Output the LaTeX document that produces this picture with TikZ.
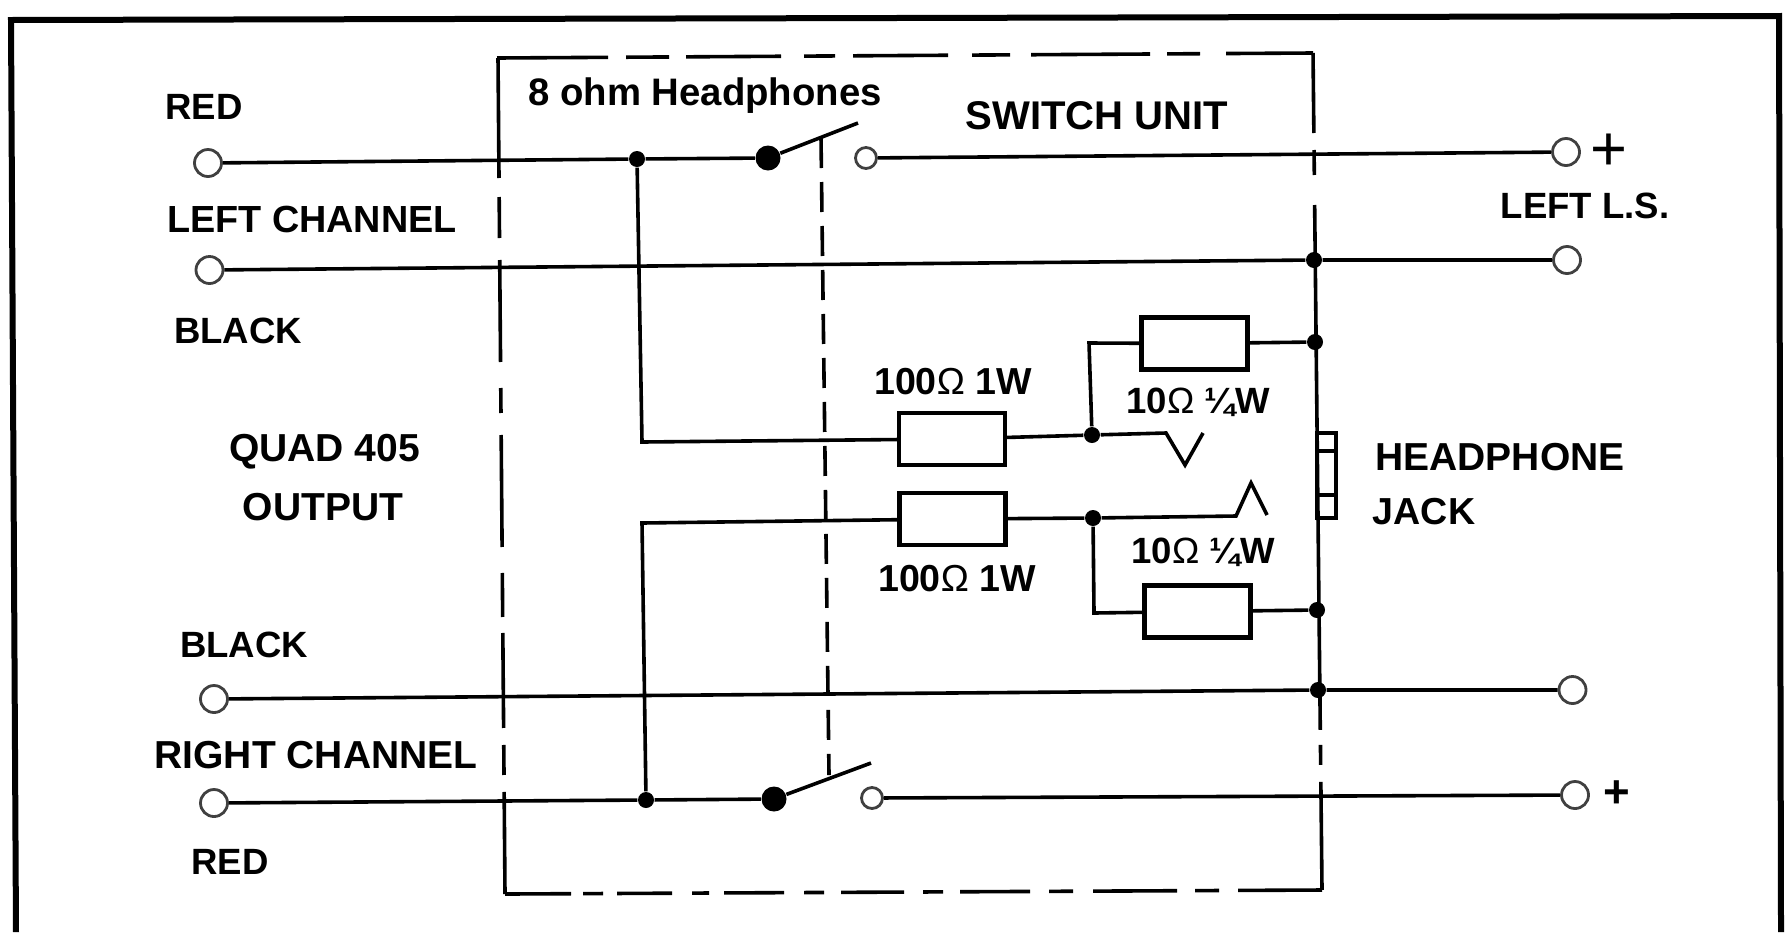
\documentclass[tikz,border=0pt]{standalone}
\usepackage{fontspec}
\setmainfont{Liberation Sans}
\newcommand{\lab}[1]{\fontsize{#1pt}{#1pt}\selectfont\bfseries}
\newcommand{\ohm}{{\fontseries{m}\selectfont Ω}}
\tikzset{
	wire/.style={line width=.36mm,line join=miter},
	frameline/.style={line width=.6mm},
	boxline/.style={line width=.36mm},
	term/.style={circle,draw=black!75,fill=white,line width=.28mm,minimum size=.27cm,inner sep=0},
	contact/.style={term,minimum size=.21cm},
	junc/.style={circle,fill=black,minimum size=.16cm,inner sep=0},
	pivot/.style={circle,fill=black,minimum size=.25cm,inner sep=0},
	res/.style={rectangle,draw,line width=.42mm,fill=white,minimum width=1.06cm,minimum height=.52cm,inner sep=0},
	txt/.style={inner sep=0,text depth=0pt,font=\lab{10.4}},
	val/.style={txt,font=\lab{10.7}}
}
\begin{document}
\begin{tikzpicture}
	\useasboundingbox (0,0) rectangle (17.85,-9.32);
	%Frame
	\draw[frameline] (.16,-9.32)--(.11,-.2)--(17.79,-.16)--(17.81,-9.32);
	%Switch unit box
	\draw[boxline,dash pattern=on 11.1mm off 1.8mm on 4.3mm off 1.7mm on 9.5mm off 2.3mm on 3.1mm off 1.8mm on 9.5mm off 2.4mm on 3.8mm off 2.1mm on 11.9mm off 1.7mm on 3.3mm off 2.6mm on 8.7mm off 1mm] (4.97,-.58)--(13.13,-.53);
	\draw[boxline,dash pattern=on 8mm off 1.7mm on 2.5mm off 3mm on 52.5mm off 1.5mm on 2mm off 1.7mm on 10.8mm off 1mm] (13.13,-.53)--(13.22,-8.9);
	\draw[boxline,dash pattern=on 6.6mm off 1.2mm on 2mm off 1.4mm on 5.5mm off 2mm on 1.7mm off 1.5mm on 6mm off 2mm on 2mm off 1.7mm on 6.3mm off 1.9mm on 2mm off 1.7mm on 7mm off 1.9mm on 2.4mm off 2mm on 8.4mm off 1.8mm on 2.4mm off 1.9mm on 8.5mm off 1mm] (5.05,-8.94)--(13.22,-8.9);
	\draw[boxline,dash pattern=on 12mm off 1.9mm on 4.1mm off 2.2mm on 10.2mm off 2.6mm on 2.5mm off 2.2mm on 11.2mm off 2.6mm on 4.4mm off 1.6mm on 9.5mm off 1.7mm on 3mm off 1.7mm on 10.3mm off 1mm] (4.98,-.58)--(5.05,-8.94);
	%Ganged link between the switches
	\coordinate (Lt) at (8.21,-1.38);
	\coordinate (Lb) at (8.29,-7.75);
	\draw[boxline,dash pattern=on 3mm off 1.4mm] (Lt)--(Lb);
	%Headphone jack
	\draw[wire] (13.17,-4.33) rectangle (13.36,-5.18);
	\draw[wire] (13.17,-4.51)--(13.36,-4.51);
	\draw[wire] (13.17,-4.95)--(13.36,-4.95);
	
	%---------terminals
	\node (RlI) at (2.08,-1.63)[term]{};
	\node (BlI) at (2.095,-2.7)[term]{};
	\node (BrI) at (2.14,-6.99)[term]{};
	\node (RrI) at (2.14,-8.03)[term]{};
	\node (RlO) at (15.66,-1.52)[term]{};
	\node (BlO) at (15.67,-2.6)[term]{};
	\node (BrO) at (15.725,-6.9)[term]{};
	\node (RrO) at (15.75,-7.95)[term]{};
	%---------junctions
	\node (Jl) at (6.37,-1.59)[junc]{};
	\node (Jr) at (6.46,-8.0)[junc]{};
	\node (Jb1) at (13.14,-2.6)[junc]{};
	\node (Jb2) at (13.18,-6.9)[junc]{};
	\node (Ja1) at (10.92,-4.35)[junc]{};
	\node (Ja2) at (10.93,-5.18)[junc]{};
	\node (Jc1) at (13.15,-3.42)[junc]{};
	\node (Jc2) at (13.17,-6.1)[junc]{};
	%---------switches
	\node (Pl) at (7.68,-1.58)[pivot]{};
	\node (Pr) at (7.74,-7.99)[pivot]{};
	\node (Cl) at (8.66,-1.58)[contact]{};
	\node (Cr) at (8.72,-7.98)[contact]{};
	\coordinate (Bl) at (8.58,-1.23);
	\coordinate (Br) at (8.71,-7.63);
	%---------resistors
	\node (R1) at (9.52,-4.39)[res]{};
	\node (R2) at (11.945,-3.435)[res]{};
	\node (R3) at (9.525,-5.19)[res]{};
	\node (R4) at (11.975,-6.115)[res]{};
	
	%Wires
	\draw[wire] (RlI)--(Jl)--(Pl);
	\draw[wire] (Pl)--(Bl);
	\draw[wire] (Cl)--(RlO);
	\draw[wire] (BlI)--(Jb1)--(BlO);
	\draw[wire] (BrI)--(Jb2)--(BrO);
	\draw[wire] (RrI)--(Jr)--(Pr);
	\draw[wire] (Pr)--(Br);
	\draw[wire] (Cr)--(RrO);
	\coordinate (Ca1) at (6.42,-4.42);
	\coordinate (Ca2) at (6.42,-5.23);
	\draw[wire] (Jl)--(Ca1)--(R1);
	\draw[wire] (Jr)--(Ca2)--(R3);
	\draw[wire] (R1)--(Ja1);
	\draw[wire] (R3)--(Ja2);
	\coordinate (Cb1) at (10.89,-3.43);
	\coordinate (Cb2) at (10.94,-6.13);
	\draw[wire] (Ja1)--(Cb1)--(R2);
	\draw[wire] (Ja2)--(Cb2)--(R4);
	\draw[wire] (R2)--(Jc1);
	\draw[wire] (R4)--(Jc2);
	%---------jack contacts
	\coordinate (Tl1) at (11.66,-4.33);
	\coordinate (Tl2) at (11.85,-4.65);
	\coordinate (Tl3) at (12.03,-4.33);
	\coordinate (Tr1) at (12.36,-5.16);
	\coordinate (Tr2) at (12.51,-4.83);
	\coordinate (Tr3) at (12.67,-5.15);
	\draw[wire] (Ja1)--(Tl1)--(Tl2)--(Tl3);
	\draw[wire] (Ja2)--(Tr1)--(Tr2)--(Tr3);
	
	%Labels
	\node (TrA) at (2.04,-1.07)[txt]{RED};
	\node (TlC) at (3.12,-2.19)[txt,font=\lab{10.75}]{LEFT CHANNEL};
	\node (TbA) at (2.38,-3.31)[txt]{BLACK};
	\node (Tq) at (3.245,-4.48)[txt,font=\lab{11.1}]{QUAD 405};
	\node (To) at (3.23,-5.07)[txt,font=\lab{11.1}]{OUTPUT};
	\node (TbB) at (2.44,-6.45)[txt]{BLACK};
	\node (TrC) at (3.16,-7.55)[txt,font=\lab{11.1}]{RIGHT CHANNEL};
	\node (TrB) at (2.3,-8.62)[txt]{RED};
	\node (Th) at (7.05,-.92)[txt,font=\lab{10.9}]{8 ohm Headphones};
	\node (Ts) at (10.97,-1.16)[txt,font=\lab{11.4}]{SWITCH UNIT};
	\node (Tls) at (15.85,-2.06)[txt]{LEFT L.S.};
	\node (Thp) at (15,-4.57)[txt,font=\lab{11.1}]{HEADPHONE};
	\node (Tj) at (14.24,-5.11)[txt,font=\lab{10.7}]{JACK};
	\node (Tv1) at (9.53,-3.81)[val]{100\ohm\ 1W};
	\node (Tv2) at (11.98,-4.01)[val,font=\lab{10.4}]{10\ohm\ ¼W};
	\node (Tv3) at (9.57,-5.78)[val]{100\ohm\ 1W};
	\node (Tv4) at (12.03,-5.51)[val,font=\lab{10.4}]{10\ohm\ ¼W};
	\node (Pa) at (16.09,-1.52)[inner sep=0,font=\fontsize{18}{18}\selectfont]{+};
	\node (Pb) at (16.17,-7.94)[inner sep=0,font=\lab{13}]{+};
\end{tikzpicture}
\end{document}
